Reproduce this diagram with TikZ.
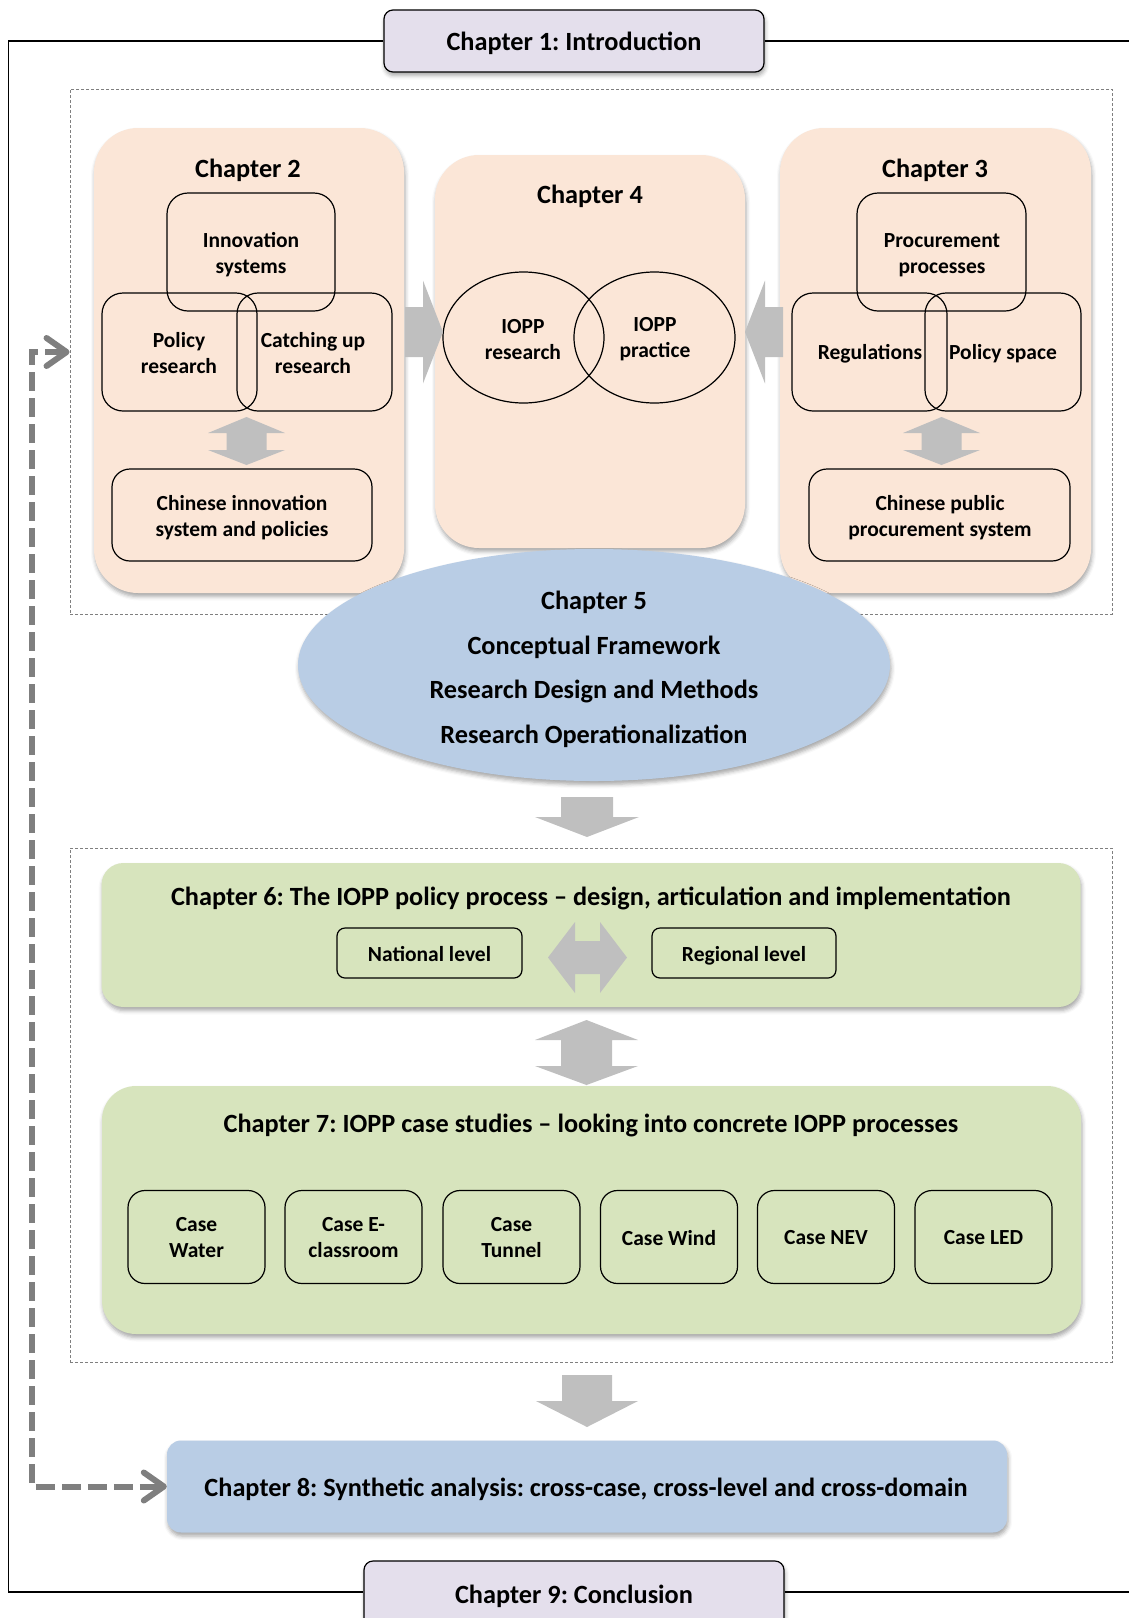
\documentclass[tikz,border=0pt]{standalone}
\usepackage{fontspec}
\setmainfont{Carlito}
\usetikzlibrary{shadows.blur,arrows.meta,shapes.geometric}

\definecolor{peach}{HTML}{FBE6D7}
\definecolor{chapblue}{HTML}{B9CDE5}
\definecolor{chapgreen}{HTML}{D7E4BD}
\definecolor{lavender}{HTML}{E4DFEC}
\definecolor{blockgray}{HTML}{BFBFBF}
\definecolor{linkgray}{HTML}{7F7F7F}

\begin{document}
\frenchspacing
\begin{tikzpicture}[x=1pt,y=-1pt,
  softshadow/.style={blur shadow={shadow xshift=1pt,shadow yshift=-3.5pt,shadow blur radius=4pt,shadow opacity=35}},
  headline/.style={font=\bfseries\fontsize{26.3}{30}\selectfont,inner sep=0pt,align=center},
  lbl/.style={font=\bfseries\fontsize{21.5}{26}\selectfont,inner sep=0pt,align=center},
  panel/.style={fill=peach,rounded corners=44pt,inner sep=0pt,softshadow},
  outline/.style={draw=black,line width=1.2pt,rounded corners=#1,inner sep=0pt},
  framebox/.style={draw=linkgray,line width=0.9pt,dash pattern=on 3pt off 2pt},
  block/.style={fill=blockgray},
  feedback/.style={draw=linkgray,line width=6pt,dash pattern=on 19pt off 7pt,
    {Straight Barb[length=20pt,width=28pt,line cap=round,line join=round]}-{Straight Barb[length=20pt,width=28pt,line cap=round,line join=round]}}
]
\useasboundingbox (0,0) rectangle (1128,1618);

% dotted group frames
\node[framebox,minimum width=1042pt,minimum height=525pt,inner sep=0pt] (grpA) at (591,351.5) {};
\node[framebox,minimum width=1042pt,minimum height=514pt,inner sep=0pt] (grpB) at (591,1105) {};

% Chapter 1 and Chapter 9 with the surrounding frame
\node[draw=black,line width=1.2pt,fill=lavender,rounded corners=9pt,softshadow,
      minimum width=380pt,minimum height=62pt,inner sep=0pt] (c1) at (574,41) {};
\node[headline] (c1t) at (574,43.5) {Chapter 1: Introduction};
\node[draw=black,line width=1.2pt,fill=lavender,rounded corners=9pt,softshadow,
      minimum width=420pt,minimum height=80pt,inner sep=0pt] (c9) at (574,1601) {};
\node[headline] (c9t) at (574,1596.5) {Chapter 9: Conclusion};
\coordinate (ftl) at (8.5,41);
\coordinate (fbl) at (8.5,1592);
\coordinate (ftr) at (1140,41);
\coordinate (fbr) at (1140,1592);
\draw[line width=1.3pt] (c1.west) -- (ftl) -- (fbl) -- (fbl -| c9.west);
\draw[line width=1.3pt] (c1.east) -- (ftr);
\draw[line width=1.3pt] (fbl -| c9.east) -- (fbr);

% Chapter 2 panel
\node[panel,minimum width=310pt,minimum height=465pt] (c2) at (249,360.5) {};
\node[headline] (c2t) at (248,170.5) {Chapter 2};
\node[outline=21pt,minimum width=168pt,minimum height=118pt] (innov) at (251,252) {};
\node[outline=21pt,minimum width=155pt,minimum height=118pt] (polr) at (179.5,352) {};
\node[outline=21pt,minimum width=155pt,minimum height=118pt] (catch) at (314.5,352) {};
\node[lbl] (innovt) at (251,255) {Innovation\\systems};
\node[lbl] (polrt) at (179,353) {Policy\\research};
\node[lbl] (catcht) at (313,353) {Catching up\\research};
\node[outline=18pt,minimum width=260pt,minimum height=92pt] (cnis) at (242,515) {};
\node[lbl] (cnist) at (242,518) {Chinese innovation\\system and policies};
\fill[block] (246.5,417) -- (285,433) -- (266.5,433) -- (266.5,450) -- (285,450) -- (246.5,465)
  -- (208,450) -- (226.5,450) -- (226.5,433) -- (208,433) -- cycle;

% Chapter 3 panel
\node[panel,minimum width=311pt,minimum height=465pt] (c3) at (935.5,360.5) {};
\node[headline] (c3t) at (935,170.5) {Chapter 3};
\node[outline=21pt,minimum width=169pt,minimum height=118pt] (proc) at (941.5,252) {};
\node[outline=21pt,minimum width=155pt,minimum height=118pt] (regs) at (869.5,352) {};
\node[outline=21pt,minimum width=156pt,minimum height=118pt] (pspace) at (1003,352) {};
\node[lbl] (proct) at (942,255) {Procurement\\processes};
\node[lbl] (regst) at (870,354) {Regulations};
\node[lbl] (pspacet) at (1003,354) {Policy space};
\node[outline=18pt,minimum width=261pt,minimum height=92pt] (cpps) at (939.5,515) {};
\node[lbl] (cppst) at (940,518) {Chinese public\\procurement system};
\fill[block] (941.5,417) -- (980,433) -- (961.5,433) -- (961.5,450) -- (980,450) -- (941.5,465)
  -- (903,450) -- (921.5,450) -- (921.5,433) -- (903,433) -- cycle;

% Chapter 4 panel
\node[panel,minimum width=310pt,minimum height=393pt] (c4) at (590,351.5) {};
\node[headline] (c4t) at (590,196.5) {Chapter 4};
\node[draw=black,line width=1.2pt,ellipse,minimum width=161pt,minimum height=131pt,inner sep=0pt] (ioppr) at (523.5,337.5) {};
\node[draw=black,line width=1.2pt,ellipse,minimum width=161pt,minimum height=131pt,inner sep=0pt] (ioppp) at (654.5,337.5) {};
\node[lbl] (ioppr-t) at (523,339.5) {IOPP\\research};
\node[lbl] (ioppp-t) at (655,339.5) {IOPP\\practice};

% block arrows into Chapter 4
\fill[block] (405,307) -- (423,307) -- (423,280.5) -- (443,332) -- (423,383.5) -- (423,357) -- (405,357) -- cycle;
\fill[block] (783,307) -- (765,307) -- (765,280.5) -- (745,332) -- (765,383.5) -- (765,357) -- (783,357) -- cycle;

% Chapter 5 ellipse
\node[ellipse,fill=chapblue,softshadow,minimum width=592pt,minimum height=232pt,inner sep=0pt] (c5) at (594,665) {};
\node[headline] (c5a) at (594,602.5) {Chapter 5};
\node[headline] (c5b) at (594,647.5) {Conceptual Framework};
\node[headline] (c5c) at (594,691.5) {Research Design and Methods};
\node[headline] (c5d) at (594,736.5) {Research Operationalization};
\fill[block] (561,797) -- (613,797) -- (613,817) -- (639,817) -- (587,837) -- (535,817) -- (561,817) -- cycle;

% Chapter 6
\node[fill=chapgreen,rounded corners=22pt,softshadow,minimum width=979pt,minimum height=144pt,inner sep=0pt] (c6) at (591,935) {};
\node[headline] (c6t) at (591,898) {Chapter 6: The IOPP policy process -- design, articulation and implementation};
\node[outline=8pt,minimum width=185pt,minimum height=50pt] (natl) at (429.5,953) {};
\node[outline=8pt,minimum width=184pt,minimum height=50pt] (regl) at (744,953) {};
\node[lbl] (natlt) at (429.5,954) {National level};
\node[lbl] (reglt) at (744,956) {Regional level};
\fill[block] (548,957.5) -- (575,922) -- (575,941) -- (600,941) -- (600,922) -- (627,957.5)
  -- (600,993) -- (600,974) -- (575,974) -- (575,993) -- cycle;

% link between Chapter 6 and Chapter 7
\fill[block] (586.5,1020) -- (638,1040) -- (612,1040) -- (612,1066) -- (638,1066) -- (586.5,1085)
  -- (535,1066) -- (561,1066) -- (561,1040) -- (535,1040) -- cycle;

% Chapter 7
\node[fill=chapgreen,rounded corners=34pt,softshadow,minimum width=979pt,minimum height=248pt,inner sep=0pt] (c7) at (591.5,1210) {};
\node[headline] (c7t) at (591,1125.5) {Chapter 7: IOPP case studies -- looking into concrete IOPP processes};
\node[outline=17pt,minimum width=137pt,minimum height=93pt] (cw) at (196.5,1237) {};
\node[outline=17pt,minimum width=137pt,minimum height=93pt] (ce) at (353.5,1237) {};
\node[outline=17pt,minimum width=137pt,minimum height=93pt] (ct) at (511.5,1237) {};
\node[outline=17pt,minimum width=137pt,minimum height=93pt] (cwi) at (669,1237) {};
\node[outline=17pt,minimum width=137pt,minimum height=93pt] (cn) at (826,1237) {};
\node[outline=17pt,minimum width=137pt,minimum height=93pt] (cl) at (983.5,1237) {};
\node[lbl] (cwt) at (196.5,1238) {Case\\Water};
\node[lbl] (cet) at (353.5,1238) {Case E-\\classroom};
\node[lbl] (ctt) at (511.5,1238) {Case\\Tunnel};
\node[lbl] (cwit) at (669,1238) {Case Wind};
\node[lbl] (cnt) at (826,1238) {Case NEV};
\node[lbl] (clt) at (983.5,1238) {Case LED};

% into Chapter 8
\fill[block] (562,1375) -- (612,1375) -- (612,1401) -- (638,1401) -- (587,1427) -- (536,1401) -- (562,1401) -- cycle;

% Chapter 8
\node[fill=chapblue,rounded corners=14pt,softshadow,minimum width=840pt,minimum height=92pt,inner sep=0pt] (c8) at (587,1486.5) {};
\node[headline] (c8t) at (586,1489.5) {Chapter 8: Synthetic analysis: cross-case, cross-level and cross-domain};

% feedback link between the literature block and Chapter 8
\coordinate (fbk) at (32,352);
\draw[feedback] (grpA.west |- fbk) -- (fbk) -- (fbk |- c8.west) -- (c8.west);
\end{tikzpicture}
\end{document}
